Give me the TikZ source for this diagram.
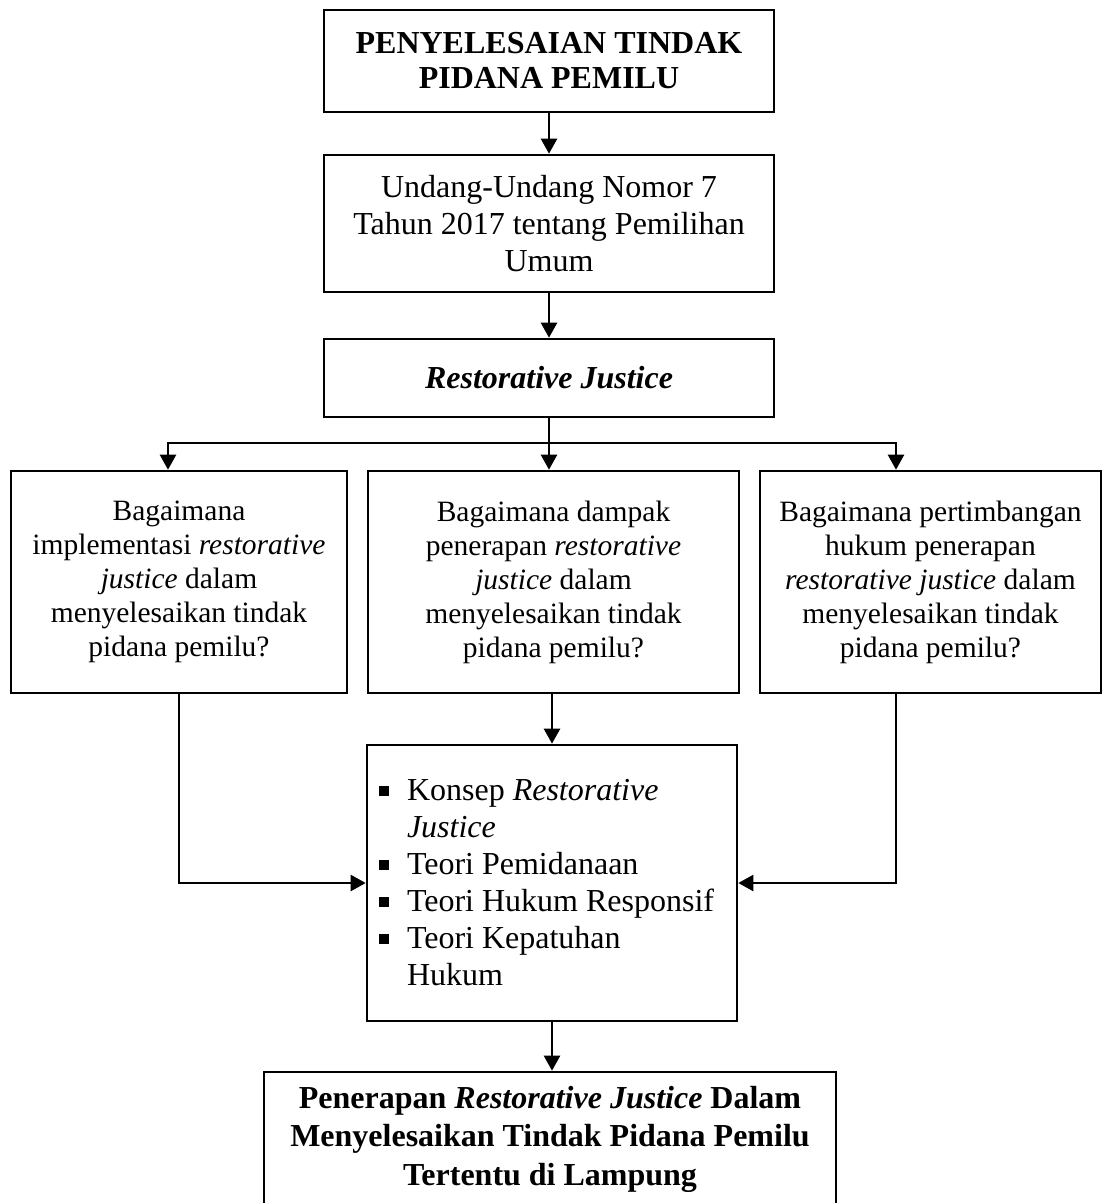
\documentclass[tikz,border=0pt]{standalone}
\usepackage{fontspec}
\setmainfont{Liberation Serif}
\usetikzlibrary{arrows.meta}
\newcommand\sqb{\makebox[28pt][l]{\rule[5pt]{10pt}{10pt}}}
\newcommand\bline[1]{\makebox[346pt][l]{#1}}
\begin{document}
\begin{tikzpicture}[x=1pt,y=-1pt,
  box/.style={draw, line width=2.6pt, rectangle, inner sep=0pt, align=center},
  lin/.style={line width=2.4pt},
  arr/.style={line width=2.4pt, -{Triangle[length=15pt,width=16pt]}},
  big/.style={font=\fontsize{32}{37}\selectfont},
  q/.style={font=\fontsize{29.5}{34}\selectfont}]
\useasboundingbox (0,0) rectangle (1102,1203);

\node[box, minimum width=450pt, minimum height=102pt, font=\fontsize{32}{35}\selectfont\bfseries] (t1) at (549,61)
  {PENYELESAIAN TINDAK\\PIDANA PEMILU};
\node[box, big, minimum width=450pt, minimum height=137pt] (t2) at (549,223.5)
  {Undang-Undang Nomor 7\\Tahun 2017 tentang Pemilihan\\Umum};
\node[box, big, minimum width=450pt, minimum height=78pt] (t3) at (549,378)
  {\textbf{\textit{Restorative Justice}}};

\node[box, q, minimum width=336pt, minimum height=222pt] (qL) at (179,582)
  {Bagaimana\\implementasi \textit{restorative}\\\textit{justice} dalam\\menyelesaikan tindak\\pidana pemilu?};
\node[box, q, minimum width=371pt, minimum height=222pt] (qM) at (553.5,582)
  {Bagaimana dampak\\penerapan \textit{restorative}\\\textit{justice} dalam\\menyelesaikan tindak\\pidana pemilu?};
\node[box, q, minimum width=341pt, minimum height=222pt] (qR) at (930.5,582)
  {Bagaimana pertimbangan\\hukum penerapan\\\textit{restorative justice} dalam\\menyelesaikan tindak\\pidana pemilu?};

\node[box, big, minimum width=370pt, minimum height=276pt, align=left] (th) at (552,883)
  {\bline{\sqb Konsep \textit{Restorative}}\\
   \bline{\hspace*{28pt}\textit{Justice}}\\
   \bline{\sqb Teori Pemidanaan}\\
   \bline{\sqb Teori Hukum Responsif}\\
   \bline{\sqb Teori Kepatuhan}\\
   \bline{\hspace*{28pt}Hukum}};

\node[box, minimum width=572pt, minimum height=134pt, font=\fontsize{32}{38.5}\selectfont\bfseries] (fin) at (550,1139)
  {Penerapan \textit{Restorative Justice} Dalam\\Menyelesaikan Tindak Pidana Pemilu\\Tertentu di Lampung};

\coordinate (jm) at (549,443);
\coordinate (jL) at (168,443);
\coordinate (jR) at (896,443);

\draw[arr] (t1) -- (t2);
\draw[arr] (t2) -- (t3);
\draw[arr] (t3.south) -- (jm) -| (jL |- qL.north);
\draw[arr] (jm) -| (jR |- qR.north);
\draw[arr] (jm) -- (jm |- qM.north);

\draw[arr] (qL.south) |- (th.west);
\draw[arr] (jR |- qR.south) |- (th.east);
\draw[arr] (th.north |- qM.south) -- (th.north);
\draw[arr] (th.south) -- (th.south |- fin.north);
\end{tikzpicture}
\end{document}
